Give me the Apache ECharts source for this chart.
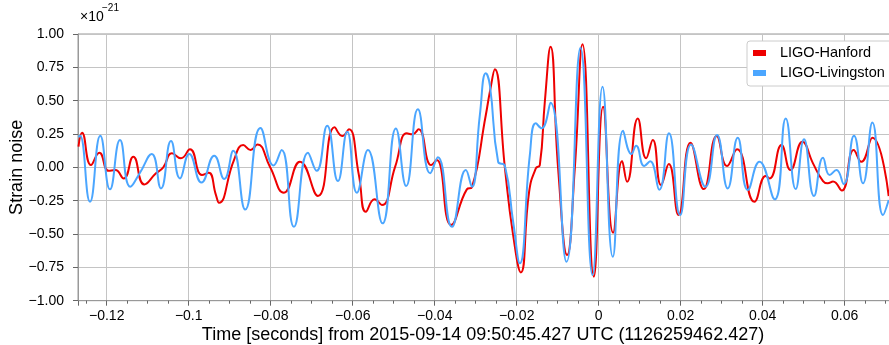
<!DOCTYPE html>
<html>
<head>
<meta charset="utf-8">
<script src="https://cdn.jsdelivr.net/npm/echarts@6/dist/echarts.min.js"></script>
<style>
html,body{margin:0;padding:0;background:#fff;}
#chart{width:889px;height:345px;}
</style>
</head>
<body>
<div id="chart"></div>
<script>
// Time offsets (s) and strain values (×1e-21)
const hanfordTime = [-0.12688,-0.12602,-0.12383,-0.12180,-0.11951,-0.11790,-0.11586,-0.11351,-0.11083,-0.10798,-0.10620,-0.10408,-0.10189,-0.09969,-0.09677,-0.09513,-0.09335,-0.09262,-0.08896,-0.08670,-0.08489,-0.08328,-0.08019,-0.07677,-0.07287,-0.06848,-0.06441,-0.06256,-0.06093,-0.05849,-0.05678,-0.05466,-0.05288,-0.04964,-0.04679,-0.04540,-0.04393,-0.04086,-0.03947,-0.03599,-0.03216,-0.03094,-0.02753,-0.02655,-0.02533,-0.02289,-0.02087,-0.01899,-0.01697,-0.01534,-0.01436,-0.01314,-0.01175,-0.00990,-0.00770,-0.00583,-0.00395,-0.00119,0.00107,0.00351,0.00570,0.00692,0.00953,0.01156,0.01319,0.01521,0.01709,0.01946,0.02238,0.02562,0.02879,0.03130,0.03374,0.03798,0.04074,0.04171,0.04457,0.04676,0.04969,0.05227,0.05471,0.05585,0.05715,0.05929,0.06219,0.06407,0.06675,0.07073];
const hanfordStrain = [0.155,0.26,0.017,0.11,-0.026,-0.02,-0.083,0.08,-0.128,-0.045,0,0.105,0.068,0.135,-0.058,-0.04,-0.208,-0.266,0.055,0.167,0.13,0.172,0.005,-0.19,0.042,-0.215,0.30,0.235,0.285,-0.058,-0.333,-0.24,-0.283,0.005,0.255,0.248,0.285,0.017,0.055,-0.433,-0.165,-0.15,0.393,0.565,0.735,0,-0.508,-0.788,-0.183,-0.008,0.017,0.492,0.905,-0.008,-0.658,-0.008,0.923,-0.82,0.455,-0.49,0.047,-0.108,0.367,0.068,0.205,-0.133,0.025,-0.358,0.185,-0.163,0.235,0.01,0.135,-0.258,-0.065,-0.083,0.167,-0.02,0.192,0.03,-0.103,-0.12,-0.107,-0.174,0.13,0.042,0.222,-0.215];

const livingstonTime = [-0.12688,-0.12651,-0.12407,-0.12156,-0.11920,-0.11676,-0.11425,-0.11188,-0.10903,-0.10676,-0.10432,-0.10213,-0.09986,-0.09689,-0.09377,-0.09133,-0.08913,-0.08621,-0.08250,-0.07928,-0.07733,-0.07434,-0.07092,-0.06880,-0.06622,-0.06361,-0.06134,-0.05898,-0.05629,-0.05271,-0.04947,-0.04696,-0.04410,-0.04110,-0.03923,-0.03581,-0.03240,-0.03094,-0.02899,-0.02753,-0.02655,-0.02453,-0.02289,-0.02087,-0.01924,-0.01680,-0.01534,-0.01395,-0.01175,-0.00785,-0.00444,-0.00151,0.00093,0.00344,0.00595,0.00800,0.00912,0.01112,0.01253,0.01477,0.01714,0.01985,0.02253,0.02604,0.02887,0.03147,0.03391,0.03635,0.03920,0.04293,0.04562,0.04805,0.05008,0.05251,0.05471,0.05634,0.05798,0.05976,0.06227,0.06446,0.06675,0.06934,0.07073];
const livingstonStrain = [0.227,0.239,-0.258,0.237,-0.165,0.205,-0.146,-0.04,0.1,-0.158,0.197,-0.083,0.1,-0.114,0.087,-0.088,0.125,-0.317,0.296,0.014,0.13,-0.446,0.11,-0.026,0.312,-0.103,0.267,-0.19,0.13,-0.42,0.292,-0.14,0.435,-0.045,0.075,-0.446,-0.02,-0.146,0.392,0.705,0.617,0.042,0.012,-0.408,-0.72,0.092,0.33,0.293,0.485,-0.708,0.897,-0.808,0.605,-0.671,0.275,0.1,0.162,0.01,0.045,-0.168,0.255,-0.358,0.172,-0.146,0.242,-0.158,0.222,-0.17,0.042,-0.24,0.367,-0.163,0.21,-0.215,0.072,-0.058,-0.02,-0.125,0.237,-0.12,0.337,-0.358,-0.245];

const seriesNames = ['LIGO-Hanford','LIGO-Livingston'];
const xTitle = 'Time [seconds] from 2015-09-14 09:50:45.427 UTC (1126259462.427)';
const yTitle = 'Strain noise';

const FONT = "'Liberation Sans', Arial, sans-serif";
const pair = (t, v) => t.map((x, i) => [x, v[i]]);
const minus = s => s.replace('-', '\u2212');

const chart = echarts.init(document.getElementById('chart'), null, {renderer: 'canvas'});
chart.setOption({
  animation: false,
  backgroundColor: '#fff',
  textStyle: {fontFamily: FONT},
  grid: {left: 78, top: 34, right: -9, bottom: 44.3, outerBoundsMode: 'none', containLabel: false,
    show: true, borderColor: '#999', borderWidth: 1, backgroundColor: 'transparent'},
  xAxis: {
    type: 'value', min: -0.127, max: 0.073, minInterval: 0.02, maxInterval: 0.02, splitNumber: 10,
    axisLine: {show: true, onZero: false, lineStyle: {color: '#999'}},
    axisTick: {show: true, length: 5, lineStyle: {color: '#666'}},
    minorTick: {show: true, splitNumber: 4, length: 3, lineStyle: {color: '#666'}},
    splitLine: {show: true, lineStyle: {color: '#c4c4c4', width: 1}},
    axisLabel: {showMinLabel: false, showMaxLabel: false, color: '#000', fontSize: 14, fontFamily: FONT, margin: 8,
      formatter: v => Math.abs(v) < 1e-9 ? '0' : minus(String(parseFloat(v.toFixed(3))))}
  },
  yAxis: {
    type: 'value', min: -1, max: 1, interval: 0.25,
    name: yTitle, nameLocation: 'middle', nameGap: 52, nameMoveOverlap: false,
    nameTextStyle: {color: '#000', fontSize: 18, fontFamily: FONT},
    axisLine: {show: true, onZero: false, lineStyle: {color: '#999'}},
    axisTick: {show: true, length: 5, lineStyle: {color: '#666'}},
    splitLine: {show: true, lineStyle: {color: '#c4c4c4', width: 1}},
    axisLabel: {color: '#000', fontSize: 14, fontFamily: FONT, margin: 14, formatter: v => minus(v.toFixed(2))}
  },
  legend: {
    orient: 'vertical', left: 747, top: 41,
    data: seriesNames,
    icon: 'rect', itemWidth: 13, itemHeight: 6, itemGap: 4,
    padding: [4, 8, 5, 6],
    backgroundColor: '#fff', borderColor: '#cccccc', borderWidth: 1, borderRadius: 3,
    textStyle: {color: '#000', fontSize: 14.5, fontFamily: FONT, lineHeight: 16, padding: [0, 0, 0, 9]}
  },
  graphic: [
    {type: 'text', style: {text: xTitle, x: 483, y: 335, textAlign: 'center', textVerticalAlign: 'middle', fontSize: 18, fontFamily: FONT, fill: '#000'}},
    {type: 'text', style: {text: '\u00d710', x: 80, y: 17, textVerticalAlign: 'middle', fontSize: 14, fontFamily: FONT, fill: '#000'}},
    {type: 'text', style: {text: '\u221221', x: 102, y: 8, textVerticalAlign: 'middle', fontSize: 10, fontFamily: FONT, fill: '#000'}}
  ],
  series: [
    {name: seriesNames[0], type: 'line', data: pair(hanfordTime, hanfordStrain), smooth: 0.5, showSymbol: false, symbol: 'none', lineStyle: {color: '#ee0000', width: 2}, itemStyle: {color: '#ee0000'}},
    {name: seriesNames[1], type: 'line', data: pair(livingstonTime, livingstonStrain), smooth: 0.5, showSymbol: false, symbol: 'none', lineStyle: {color: '#4ba6ff', width: 2}, itemStyle: {color: '#4ba6ff'}}
  ]
});
</script>
</body>
</html>
